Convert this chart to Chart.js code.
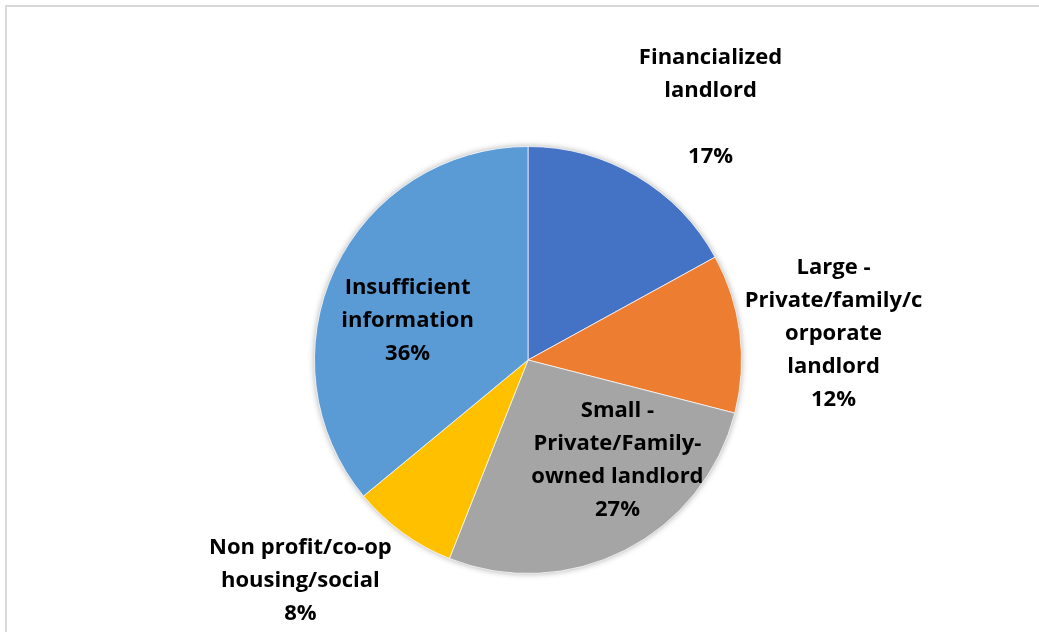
<!DOCTYPE html>
<html>
<head>
<meta charset="utf-8">
<title>Landlord types</title>
<script src="https://cdn.jsdelivr.net/npm/chart.js@4/dist/chart.umd.min.js"></script>
<style>
  html, body { margin: 0; padding: 0; background: #ffffff; }
  #wrap { position: relative; width: 1039px; height: 632px; }
  canvas { display: block; }
</style>
</head>
<body>
<div id="wrap"><canvas id="pie" width="1039" height="632"></canvas></div>
<script>
// Landlord categories (display lines) and their shares, in percent
const categories = [
  ['Financialized', 'landlord', ''],
  ['Large -', 'Private/family/c', 'orporate', 'landlord'],
  ['Small -', 'Private/Family-', 'owned landlord'],
  ['Non profit/co-op', 'housing/social'],
  ['Insufficient', 'information']
];
const shares = [17, 12, 27, 8, 36];
const sliceColors = ['#4472C4', '#ED7D31', '#A5A5A5', '#FFC000', '#5B9BD5'];

// Where each label block sits, as multiples of the pie radius from its centre
const labelAnchors = [
  [0.855, -1.183],
  [1.431, -0.124],
  [0.419, 0.471],
  [-1.066, 1.035],
  [-0.564, -0.183]
];

const LABEL_FONT = 'bold 22px "Open Sans", Lato, sans-serif';
const LINE_HEIGHT = 33;

// Light frame around the chart
const framePlugin = {
  id: 'frame',
  beforeDraw(chart) {
    const ctx = chart.ctx;
    ctx.save();
    ctx.fillStyle = '#ffffff';
    ctx.fillRect(0, 0, chart.width, chart.height);
    ctx.strokeStyle = '#d9d9d9';
    ctx.lineWidth = 2;
    ctx.strokeRect(6, 6, chart.width + 20, chart.height + 20);
    ctx.restore();
  }
};

// Soft shadow under the whole pie
const shadowPlugin = {
  id: 'pieShadow',
  beforeDatasetsDraw(chart) {
    const arc = chart.getDatasetMeta(0).data[0];
    if (!arc) return;
    const ctx = chart.ctx;
    ctx.save();
    ctx.shadowColor = 'rgba(0,0,0,0.35)';
    ctx.shadowBlur = 6;
    ctx.fillStyle = '#ffffff';
    ctx.beginPath();
    ctx.arc(arc.x, arc.y, arc.outerRadius, 0, Math.PI * 2);
    ctx.fill();
    ctx.restore();
  }
};

// Category name plus percentage for every slice
const labelPlugin = {
  id: 'sliceLabels',
  afterDatasetsDraw(chart) {
    const meta = chart.getDatasetMeta(0);
    const data = chart.data.datasets[0].data;
    const total = data.reduce((a, b) => a + b, 0);
    const ctx = chart.ctx;
    ctx.save();
    ctx.font = LABEL_FONT;
    ctx.fillStyle = '#000000';
    ctx.textAlign = 'center';
    ctx.textBaseline = 'middle';
    meta.data.forEach((arc, i) => {
      const r = arc.outerRadius;
      const cx = arc.x + labelAnchors[i][0] * r;
      const cy = arc.y + labelAnchors[i][1] * r;
      const pct = Math.round(data[i] / total * 100) + '%';
      const lines = chart.data.labels[i].concat([pct]);
      const top = cy - (lines.length - 1) * LINE_HEIGHT / 2;
      lines.forEach((t, k) => {
        if (t) ctx.fillText(t, cx, top + k * LINE_HEIGHT);
      });
    });
    ctx.restore();
  }
};

new Chart(document.getElementById('pie'), {
  type: 'pie',
  data: {
    labels: categories,
    datasets: [{
      data: shares,
      backgroundColor: sliceColors,
      borderColor: 'rgba(255,255,255,0.7)',
      borderWidth: 1
    }]
  },
  options: {
    responsive: false,
    animation: false,
    layout: { padding: { left: 314, right: 297, top: 146, bottom: 58 } },
    plugins: {
      legend: { display: false },
      tooltip: { enabled: false }
    }
  },
  plugins: [framePlugin, shadowPlugin, labelPlugin]
});
</script>
</body>
</html>
